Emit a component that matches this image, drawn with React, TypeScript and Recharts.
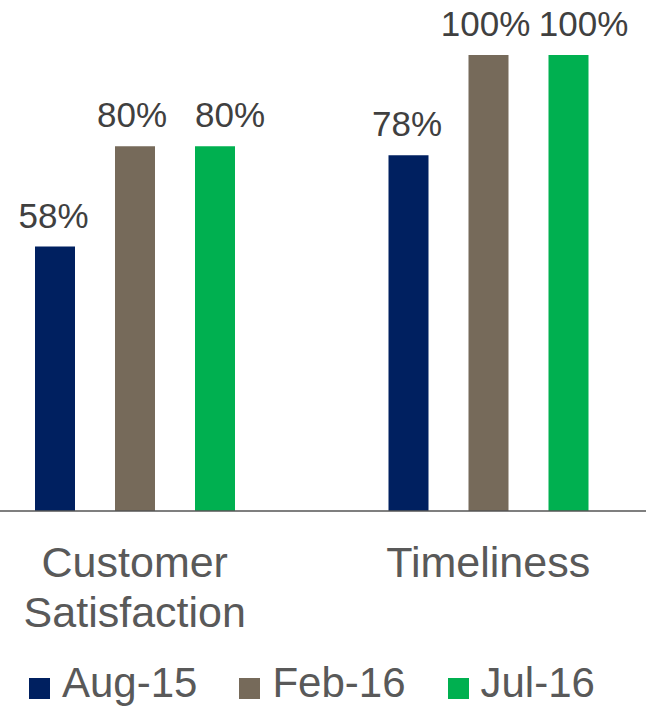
import React from "react";
import { BarChart, Bar, XAxis, YAxis, LabelList } from "recharts";

const categories = ["Customer Satisfaction", "Timeliness"];
const seriesNames = ["Aug-15", "Feb-16", "Jul-16"];
const aug15 = [58, 78];
const feb16 = [80, 100];
const jul16 = [80, 100];
const seriesColors = ["#002060", "#766a5a", "#00b050"];
const labelShift = [-1.5, -3, 15];

const seriesValues = [aug15, feb16, jul16];
const data = categories.map((c, i) => {
  const row: Record<string, string | number> = { name: c };
  seriesNames.forEach((s, j) => {
    row[s] = seriesValues[j][i];
  });
  return row;
});

const FONT = "'Liberation Sans', Arial, sans-serif";

const CategoryTick = (props: any) => {
  const { x, y, payload } = props;
  const value = String(payload.value);
  const lines = value.length > 12 ? value.split(" ") : [value];
  return (
    <text
      x={x}
      y={y}
      textAnchor="middle"
      fill="#595959"
      style={{ fontSize: 43, fontFamily: FONT }}
    >
      {lines.map((l, i) => (
        <tspan key={i} x={x} dy={i === 0 ? 31 : 50}>
          {l}
        </tspan>
      ))}
    </text>
  );
};

export default function App() {
  return (
    <div style={{ position: "relative", width: 646, height: 707, overflow: "hidden", background: "#fff" }}>
      <style>{`body{margin:0;}`}</style>
      <div style={{ position: "absolute", left: -60, top: 0 }}>
        <BarChart
          width={760}
          height={640}
          data={data}
          margin={{ top: 55, right: 35, left: 18, bottom: 29 }}
          barSize={40}
          barGap={40}
        >
          <XAxis
            dataKey="name"
            height={100}
            tickLine={false}
            tickSize={0}
            tickMargin={35}
            axisLine={{ stroke: "#555555", strokeWidth: 1.5 }}
            tick={<CategoryTick />}
            interval={0}
          />
          <YAxis hide domain={[0, 100]} />
          {seriesNames.map((s, j) => (
            <Bar key={s} dataKey={s} fill={seriesColors[j]} isAnimationActive={false}>
              <LabelList
                dataKey={s}
                position="top"
                offset={19}
                dx={labelShift[j]}
                formatter={(v: any) => `${v}%`}
                style={{ fontSize: 35, fontFamily: FONT, fill: "#404040" }}
              />
            </Bar>
          ))}
        </BarChart>
      </div>
      <div
        style={{
          position: "absolute",
          left: 29,
          top: 659,
          display: "flex",
          gap: 42,
          fontFamily: FONT,
          fontSize: 42,
          color: "#595959",
          lineHeight: "48px",
          whiteSpace: "nowrap",
        }}
      >
        {seriesNames.map((s, j) => (
          <div key={s} style={{ display: "flex", alignItems: "flex-start" }}>
            <div style={{ width: 21, height: 21, background: seriesColors[j], marginTop: 19, marginRight: 12 }} />
            <span>{s}</span>
          </div>
        ))}
      </div>
    </div>
  );
}
